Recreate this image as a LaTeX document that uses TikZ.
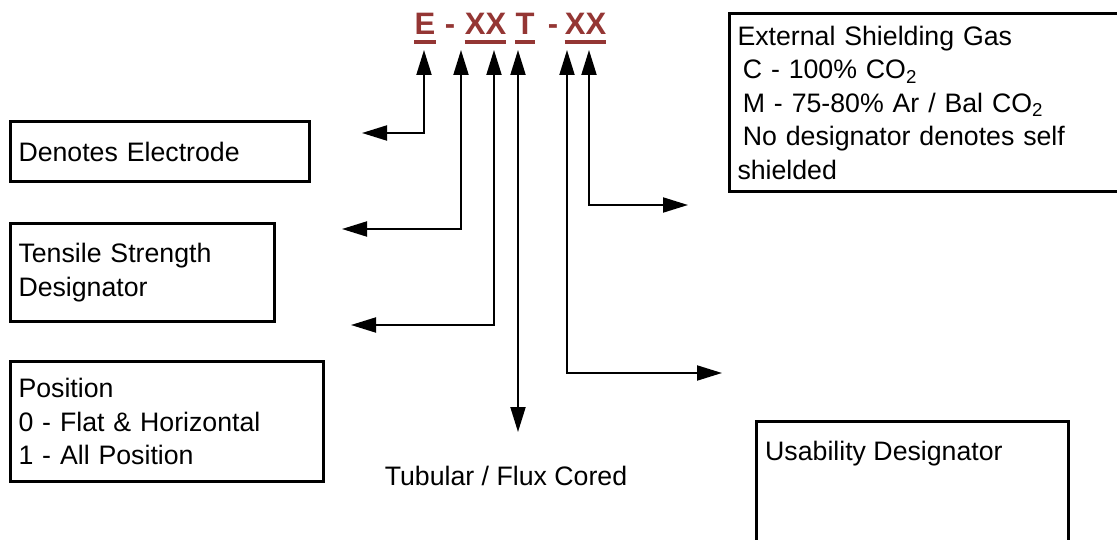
\documentclass[tikz,border=0pt]{standalone}
\usepackage{fontspec}
\setmainfont{Liberation Sans}
\usetikzlibrary{arrows.meta,positioning}
\definecolor{codered}{HTML}{943634}

\begin{document}
\begin{tikzpicture}[x=1pt, y=-1pt,
  box/.style={rectangle, draw, line width=3pt, anchor=north west, inner xsep=8pt, inner ysep=0pt, text width=#1, align=left, font=\fontsize{26.7}{33.5}\selectfont},
  lbl/.style={inner sep=0pt, font=\fontsize{26.7}{33.5}\selectfont},
  code/.style={inner sep=0pt, anchor=base, text=codered, font=\fontsize{31}{36}\selectfont\bfseries},
  uline/.style={codered, line width=3.3pt},
  arr/.style={{Triangle[length=25pt,width=15pt]}-{Triangle[length=25pt,width=15pt]}, line width=2pt}
]
  \useasboundingbox (0,0) rectangle (1117,540);
  % classification code
  \node[code] (e) at (425,35) {E};
  \node[code] (d1) at (450,35) {-};
  \node[code] (xx1) at (485.5,35) {XX};
  \node[code] (t) at (525,35) {T};
  \node[code] (d2) at (553,35) {-};
  \node[code] (xx2) at (585.5,35) {XX};
  \foreach \n in {e,xx1,t,xx2}{\draw[uline] ([yshift=-7pt]\n.base west) -- ([yshift=-7pt]\n.base east);}
  % boxes
  \node[box=283pt, minimum height=60pt] (elec) at (9,120) {Denotes Electrode};
  \node[box=248pt, minimum height=98pt] (tens) at (9,222) {Tensile Strength\\Designator};
  \node[box=297pt, minimum height=120pt] (posn) at (9,360) {Position\\0 - Flat \& Horizontal\\1 - All Position};
  \node[box=430pt, minimum height=178pt] (gas) at (728,12) {External Shielding Gas\\\hspace*{0.2em}C - 100\% CO\textsubscript{2}\\\hspace*{0.2em}M - 75-80\% Ar / Bal CO\textsubscript{2}\\\hspace*{0.2em}No designator denotes self\\shielded};
  \node[box=296pt, minimum height=140pt] (usab) at (755,420) {};
  \node[lbl, anchor=base west] (usabtxt) at (765,460) {Usability Designator};
  \node[lbl, anchor=base] (tub) at (506,485) {Tubular / Flux Cored};
  % connectors
  \foreach \i/\x/\y/\e in {1/424/133/362, 2/461/229/342, 3/494/325/351, 5/567/373/722, 6/589/205/688}{
    \coordinate (up\i) at (\x,50);
    \coordinate (end\i) at (\e,\y);
    \draw[arr] (end\i) -| (up\i);
  }
  \coordinate (up4) at (518,50);
  \coordinate (end4) at (518,432);
  \draw[arr] (up4) -- (end4);
\end{tikzpicture}
\end{document}
